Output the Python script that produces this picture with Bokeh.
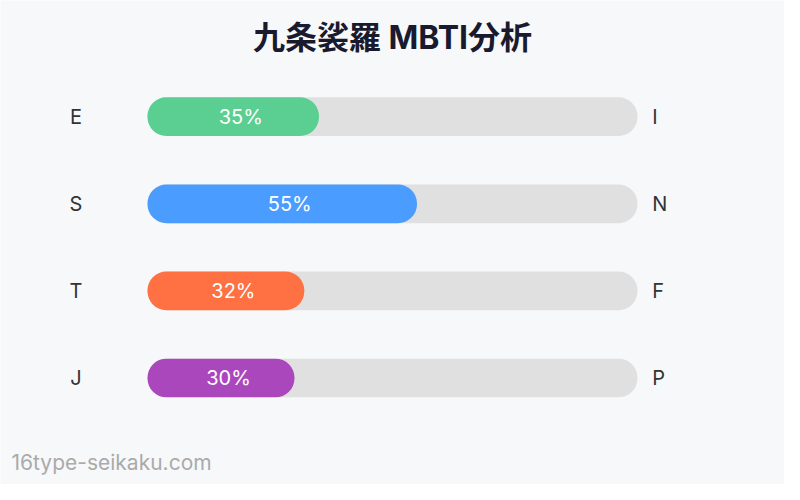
from bokeh.plotting import figure
from bokeh.models import Range1d, ColumnDataSource, Label
from bokeh.core.properties import value
from bokeh.embed import file_html
from bokeh.resources import INLINE

title_text = "九条裟羅 MBTI分析"
left_letters = ["E", "S", "T", "J"]
right_letters = ["I", "N", "F", "P"]
percents = [35, 55, 32, 30]
colors = ["#5acf91", "#4a9dff", "#ff7043", "#ab47bc"]
footer_text = "16type-seikaku.com"

W, H = 784, 484
# track 0..100 -> figure x 147..637 (4.9 px per percent); rows 87.12 px apart from y 116.16
PX = 4.9
TX = 147.0
RY0 = 116.16
RDY = 87.12
x0 = (0 - TX) / PX
x1 = (W - TX) / PX
ytop = (0 - RY0) / RDY
ybot = (H - RY0) / RDY

p = figure(width=W, height=H, output_backend="svg", toolbar_location=None,
           x_range=Range1d(x0, x1), y_range=Range1d(ybot, ytop),
           min_border=0, background_fill_color="#f7f8fa", border_fill_color="#f7f8fa")
p.axis.visible = False
p.grid.visible = False
p.outline_line_color = None

rows = list(range(len(percents)))
src = ColumnDataSource(dict(
    y=rows, pct=percents, color=colors,
    label=[f"{v}%" for v in percents],
    mid=[v / 2 for v in percents],
    left=left_letters, right=right_letters,
    zero=[0] * len(rows), full=[100] * len(rows),
))

bh = 38.7 / RDY
p.hbar(y="y", left="zero", right="full", height=bh, source=src,
       fill_color="#e0e0e0", line_color=None, border_radius=19)
p.hbar(y="y", left="zero", right="pct", height=bh, source=src,
       fill_color="color", line_color=None, border_radius=19)

p.text(x="mid", y="y", text="label", source=src, x_offset=7.5,
       text_align="center", text_baseline="middle", text_color="white",
       text_font=value("Inter"), text_font_size="20px", text_font_style="normal")

p.text(x=-14.6, y="y", text="left", source=src, text_align="center",
       text_baseline="middle", text_color="#333333",
       text_font=value("Inter"), text_font_size="20px")
p.text(x=103, y="y", text="right", source=src, text_align="left",
       text_baseline="middle", text_color="#333333",
       text_font=value("Inter"), text_font_size="20px")

p.add_layout(Label(x=W / 2, y=H - 37, x_units="screen", y_units="screen",
                   text=title_text, text_align="center", text_baseline="middle",
                   text_font="Inter, 'Noto Sans CJK JP'", text_font_style="bold",
                   text_font_size="32px", text_color="#1a1a2e"))
p.add_layout(Label(x=11, y=H - 462, x_units="screen", y_units="screen",
                   text=footer_text, text_align="left", text_baseline="middle",
                   text_font="Inter", text_font_size="21px", text_color="#aaaaaa"))

open("out.html", "w").write(file_html(p, INLINE))
